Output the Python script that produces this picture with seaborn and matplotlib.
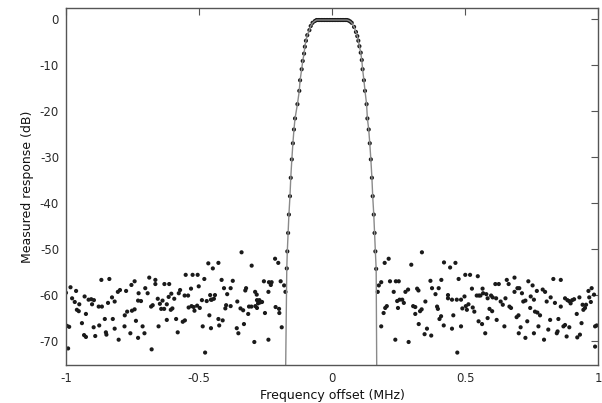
import numpy as np
import pandas as pd
import matplotlib
matplotlib.use('Agg')
import matplotlib.pyplot as plt
import seaborn as sns

# Pontos de ruido fora da banda
noise_x = [
    -1.000, -0.983, -0.962, -0.977, -0.967, -0.950, -0.959, -0.952, -0.930, -0.915,
    -0.905, -0.895, -0.902, -0.877, -0.865, -0.925, -0.996, -0.988, -0.940, -0.932,
    -0.925, -0.896, -0.890, -0.875, -0.854, -0.850, -0.848, -0.867, -0.837, -0.842,
    -0.827, -0.817, -0.824, -0.817, -0.805, -0.797, -0.802, -0.779, -0.774, -0.770,
    -0.752, -0.742, -0.780, -0.754, -0.742, -0.758, -0.737, -0.727, -0.729, -0.992,
    -0.687, -0.664, -0.664, -0.630, -0.612, -0.702, -0.693, -0.718, -0.729, -0.680,
    -0.674, -0.655, -0.647, -0.637, -0.642, -0.631, -0.621, -0.614, -0.604, -0.606,
    -0.600, -0.593, -0.576, -0.571, -0.554, -0.541, -0.530, -0.550, -0.524, -0.505,
    -0.501, -0.480, -0.465, -0.448, -0.427, -0.489, -0.471, -0.455, -0.539, -0.528,
    -0.520, -0.507, -0.497, -0.517, -0.461, -0.712, -0.705, -0.652, -0.621, -0.586,
    -0.561, -0.553, -0.580, -0.486, -0.455, -0.678,
    -0.340, -0.302, -0.214, -0.202, -0.415, -0.373, -0.256, -0.237, -0.227, -0.230,
    -0.193, -0.180, -0.406, -0.381, -0.323, -0.326, -0.289, -0.283, -0.239, -0.458,
    -0.440, -0.444, -0.452, -0.394, -0.356, -0.398, -0.401, -0.381, -0.344, -0.334,
    -0.312, -0.303, -0.282, -0.273, -0.263, -0.278, -0.270, -0.288, -0.282, -0.212,
    -0.199, -0.315, -0.252, -0.198, -0.427, -0.411, -0.424, -0.358, -0.352, -0.331,
    -0.189, -0.292, -0.239, -0.477, -0.175,
    0.338, 0.198, 0.213, 0.298, 0.421, 0.444, 0.464, 0.185, 0.176, 0.172,
    0.218, 0.240, 0.251, 0.232, 0.276, 0.286, 0.320, 0.325, 0.370, 0.411,
    0.376, 0.401, 0.389, 0.436, 0.436, 0.245, 0.254, 0.264, 0.270, 0.248,
    0.206, 0.200, 0.305, 0.313, 0.351, 0.337, 0.331, 0.395, 0.398, 0.313,
    0.194, 0.410, 0.404, 0.420, 0.185, 0.326, 0.357, 0.348, 0.373, 0.238,
    0.288, 0.471,
    0.476, 0.501, 0.519, 0.548, 0.526, 0.566, 0.568, 0.614, 0.627, 0.657,
    0.664, 0.686, 0.697, 0.704, 0.686, 0.714, 0.451, 0.469, 0.485, 0.498,
    0.544, 0.552, 0.558, 0.580, 0.585, 0.598, 0.604, 0.617, 0.652, 0.634,
    0.642, 0.667, 0.673, 0.490, 0.503, 0.507, 0.513, 0.529, 0.535, 0.592,
    0.602, 0.694, 0.701, 0.456, 0.451, 0.485, 0.551, 0.564, 0.585, 0.619,
    0.648, 0.576, 0.702, 0.727,
    0.832, 0.860, 0.738, 0.754, 0.770, 0.792, 0.801, 0.747, 0.719, 0.727,
    0.759, 0.807, 0.822, 0.838, 0.860, 0.876, 0.885, 0.891, 0.897, 0.903,
    0.910, 0.930, 0.942, 0.955, 0.964, 0.976, 0.967, 0.973, 0.985, 0.945,
    0.951, 0.920, 0.745, 0.763, 0.772, 0.782, 0.734, 0.820, 0.851, 0.870,
    0.876, 0.892, 0.938, 0.989, 0.995, 0.709, 0.776, 0.813, 0.845, 0.848,
    0.759, 0.882, 0.922, 0.932, 0.797, 0.989,
]
noise_y = [
    -59.5, -58.3, -59.1, -60.7, -61.5, -62.0, -63.2, -63.5, -60.3, -61.0,
    -60.9, -61.1, -62.0, -62.5, -62.5, -64.1, -66.7, -66.9, -66.1, -68.7,
    -69.1, -67.0, -68.9, -66.6, -65.2, -68.1, -68.6, -56.7, -56.5, -61.7,
    -60.5, -61.4, -65.2, -67.3, -59.3, -58.9, -69.7, -64.4, -59.1, -63.6,
    -63.4, -63.1, -66.8, -57.8, -57.0, -68.3, -65.6, -59.6, -69.3, -71.6,
    -56.2, -56.7, -57.6, -57.6, -57.6, -58.5, -59.6, -61.3, -61.2, -62.5,
    -62.2, -60.8, -61.9, -61.2, -63.0, -63.0, -62.0, -60.4, -59.7, -63.2,
    -62.9, -60.8, -59.6, -58.9, -60.1, -60.1, -58.6, -55.6, -55.6, -55.6,
    -58.1, -56.5, -53.1, -54.2, -53.0, -61.1, -61.3, -61.0, -62.7, -62.4,
    -62.6, -62.3, -62.8, -63.4, -64.4, -66.8, -68.3, -66.8, -65.4, -65.2,
    -65.8, -65.5, -68.1, -66.8, -67.2, -71.8,
    -50.7, -53.6, -52.1, -53.0, -56.7, -56.9, -57.0, -57.2, -57.2, -57.8,
    -57.0, -57.9, -58.5, -58.5, -58.5, -59.0, -59.3, -59.9, -59.3, -60.0,
    -60.0, -60.8, -61.0, -59.8, -61.4, -62.2, -62.9, -62.4, -62.9, -63.3,
    -62.5, -62.5, -61.1, -61.1, -61.5, -61.8, -61.6, -62.4, -62.8, -62.6,
    -63.0, -64.1, -63.9, -63.9, -65.2, -65.5, -66.6, -67.2, -68.3, -66.3,
    -67.0, -70.2, -69.7, -72.5, -59.3,
    -50.7, -53.0, -52.1, -53.4, -52.9, -54.0, -53.0, -57.2, -57.9, -59.3,
    -57.0, -57.0, -57.0, -59.3, -59.3, -58.8, -58.6, -59.0, -56.9, -56.7,
    -58.5, -58.5, -59.8, -60.0, -60.7, -61.3, -61.0, -61.0, -61.7, -62.8,
    -62.4, -62.8, -62.4, -62.6, -61.4, -63.1, -63.5, -62.5, -63.0, -64.1,
    -63.9, -64.6, -65.2, -66.6, -66.8, -66.3, -67.3, -68.5, -68.8, -69.7,
    -70.2, -72.5,
    -56.5, -55.6, -55.6, -55.9, -58.6, -58.6, -59.6, -57.6, -57.6, -56.7,
    -57.6, -56.2, -58.5, -58.5, -59.3, -59.6, -61.0, -61.0, -61.0, -60.3,
    -60.1, -60.1, -60.1, -59.8, -60.7, -60.1, -60.5, -60.7, -60.7, -61.4,
    -62.1, -62.5, -62.8, -62.9, -62.4, -63.2, -62.0, -62.7, -63.6, -63.0,
    -63.5, -64.8, -64.4, -64.4, -67.3, -66.8, -65.7, -66.3, -65.0, -65.4,
    -66.8, -68.3, -68.3, -69.3,
    -56.5, -56.7, -57.0, -57.9, -59.1, -58.8, -59.3, -60.3, -61.4, -61.2,
    -61.0, -61.4, -60.5, -61.7, -62.5, -60.7, -61.1, -61.3, -61.8, -61.1,
    -60.9, -60.5, -62.1, -62.1, -59.1, -58.5, -60.5, -61.5, -59.9, -63.2,
    -62.8, -64.1, -62.8, -63.6, -63.8, -64.4, -65.7, -65.4, -65.2, -66.8,
    -66.5, -67.0, -66.1, -66.8, -66.6, -67.0, -66.8, -67.5, -68.3, -67.9,
    -68.3, -69.0, -69.2, -68.6, -69.7, -71.2,
]

# Pontos medidos na banda de passagem
pass_x = [
    -0.170, -0.168, -0.165, -0.162, -0.158, -0.155, -0.151, -0.147, -0.143, -0.139,
    -0.130, -0.123, -0.120, -0.114, -0.110, -0.105, -0.102, -0.098, -0.093, -0.085,
    -0.080, -0.073, -0.064, -0.058, -0.052, -0.046, -0.040, -0.034, -0.028, -0.022,
    -0.016, -0.010, -0.004, 0.002, 0.008, 0.014, 0.020, 0.026, 0.032, 0.038,
    0.044, 0.050, 0.056, 0.062, 0.068, 0.074, 0.083, 0.090, 0.095, 0.099,
    0.103, 0.108, 0.112, 0.115, 0.120, 0.124, 0.130, 0.133, 0.138, 0.142,
    0.146, 0.150, 0.153, 0.157, 0.160, 0.163, 0.166,
]
pass_y = [
    -54.2, -50.5, -46.5, -42.5, -38.5, -34.5, -30.5, -27.0, -24.0, -21.6,
    -18.5, -15.6, -13.3, -10.9, -9.1, -7.5, -6.0, -4.7, -3.5, -2.4,
    -1.5, -0.8, -0.4, -0.2, -0.2, -0.2, -0.2, -0.2, -0.2, -0.2,
    -0.2, -0.2, -0.2, -0.2, -0.2, -0.2, -0.2, -0.2, -0.2, -0.2,
    -0.2, -0.2, -0.2, -0.3, -0.5, -0.8, -1.7, -2.8, -3.7, -4.7,
    -5.9, -7.3, -8.9, -10.9, -13.3, -15.6, -18.5, -21.6, -24.0, -27.0,
    -30.5, -34.5, -38.5, -42.5, -46.5, -50.5, -54.3,
]

# Extremos da curva do filtro (saem pela borda inferior)
edge_x = [-0.176, 0.169]
edge_y = [-85.0, -85.0]

sns.set_style('white')
plt.rcParams['font.family'] = ['DejaVu Sans']
plt.rcParams['axes.unicode_minus'] = False

fig = plt.figure(figsize=(6.02, 4.03), dpi=100)
ax = fig.add_axes([0.1096, 0.0943, 0.8838, 0.8857])

curva = pd.DataFrame({'f': pass_x + edge_x, 'db': pass_y + edge_y})
sns.lineplot(data=curva, x='f', y='db', sort=True, estimator=None,
             color='#8a8a8a', linewidth=1.0, ax=ax)

pontos = pd.DataFrame({'f': noise_x + pass_x, 'db': noise_y + pass_y})
sns.scatterplot(data=pontos, x='f', y='db', s=9, color='#1a1a1a',
                edgecolor='none', ax=ax)

ax.set_xlim(-1, 1)
ax.set_ylim(-75.2, 2.4)
ax.set_xticks([-1, -0.5, 0, 0.5, 1])
ax.set_xticklabels(['-1', '-0.5', '0', '0.5', '1'])
ax.set_yticks([0, -10, -20, -30, -40, -50, -60, -70])
ax.tick_params(direction='in', length=5, width=0.8, top=True, right=True,
               labelsize=8.5, labelcolor='#2a2a2a', color='#555555', pad=5)
for s in ax.spines.values():
    s.set_color('#555555')
    s.set_linewidth(1.0)

ax.set_xlabel('Frequency offset (MHz)', fontsize=9, color='#111111', labelpad=3)
ax.set_ylabel('Measured response (dB)', fontsize=9, color='#111111', labelpad=4)

fig.savefig('out.png', dpi=100)
